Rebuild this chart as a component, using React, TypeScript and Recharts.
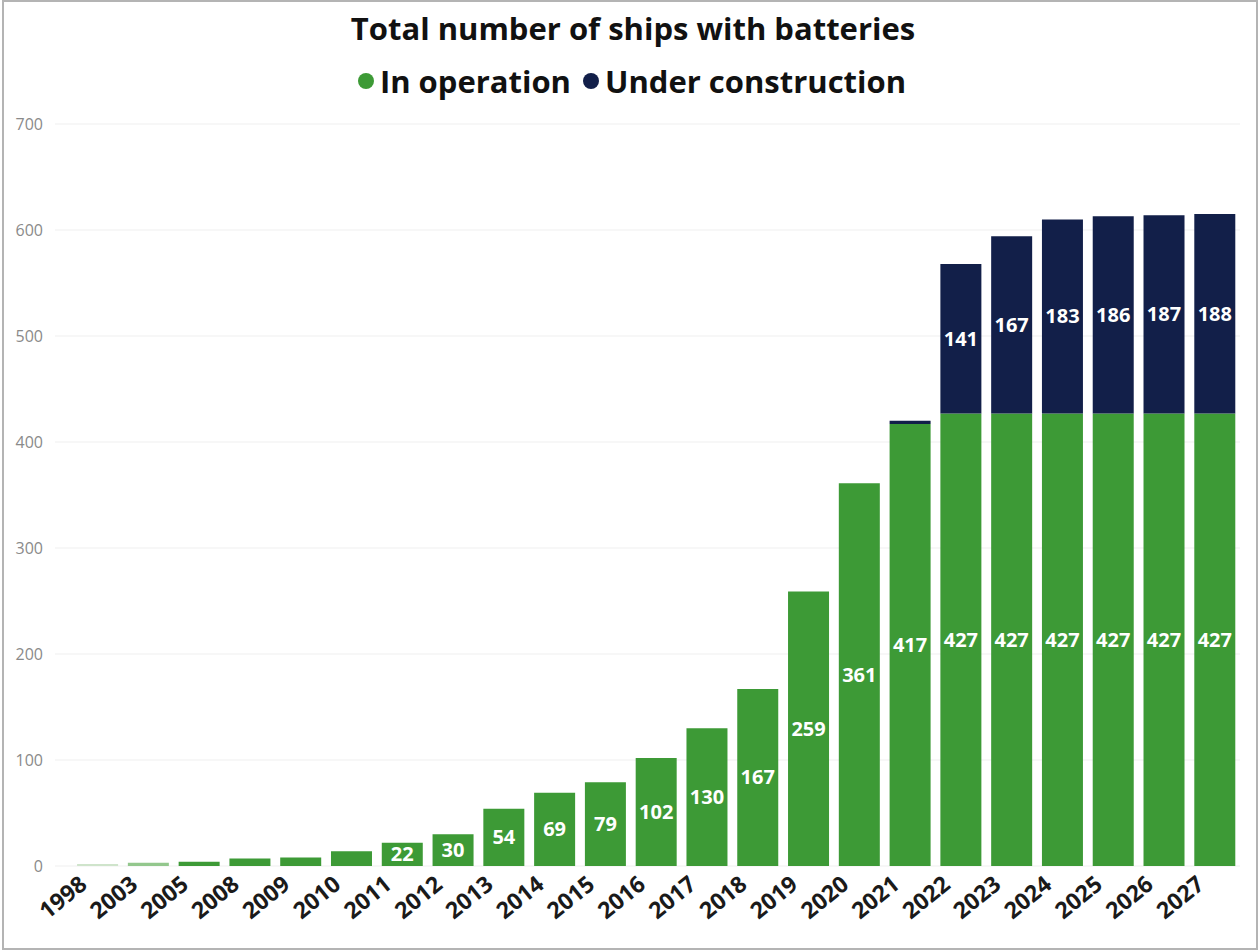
import { BarChart, Bar, XAxis, YAxis, CartesianGrid, LabelList, Cell } from 'recharts'

const YEARS = [
  '1998', '2003', '2005', '2008', '2009', '2010', '2011', '2012', '2013', '2014', '2015', '2016',
  '2017', '2018', '2019', '2020', '2021', '2022', '2023', '2024', '2025', '2026', '2027',
]
const IN_OPERATION = [2, 3, 4, 7, 8, 14, 22, 30, 54, 69, 79, 102, 130, 167, 259, 361, 417, 427, 427, 427, 427, 427, 427]
const UNDER_CONSTRUCTION = [0, 0, 0, 0, 0, 0, 0, 0, 0, 0, 0, 0, 0, 0, 0, 0, 3, 141, 167, 183, 186, 187, 188]
const Y_TICKS = [0, 100, 200, 300, 400, 500, 600, 700]

const GREEN = '#3d9a36'
const NAVY = '#121f49'
// the two oldest bars are drawn faded in the original
const GREEN_SHADES: Record<string, string> = { '1998': '#cfe4cb', '2003': '#93c78d' }
const FONT = '"Segoe UI", "Open Sans", sans-serif'

const data = YEARS.map((year, i) => ({
  year,
  operation: IN_OPERATION[i],
  construction: UNDER_CONSTRUCTION[i],
}))

// value labels only where the segment is tall enough
const SegmentLabel = (props: any) => {
  const { x, y, width, height, value } = props
  if (!value || height < 20) return null
  return (
    <text
      x={x + width / 2}
      y={y + height / 2}
      dy="0.35em"
      textAnchor="middle"
      fill="#fff"
      fontSize={20}
      fontWeight={700}
      fontFamily={FONT}
    >
      {value}
    </text>
  )
}

const YearTick = (props: any) => {
  const { x, y, payload } = props
  return (
    <text
      transform={`translate(${x - 9},${y + 19}) rotate(-39)`}
      textAnchor="end"
      fill="#1a1a1a"
      fontSize={23}
      fontWeight={700}
      fontFamily={FONT}
    >
      {payload.value}
    </text>
  )
}

export default function App() {
  return (
    <div style={{ position: 'absolute', left: 0, top: 0, width: 1260, height: 952, background: '#fff' }}>
      <div
        style={{
          position: 'absolute',
          left: 2,
          top: 0,
          width: 1252,
          height: 946,
          border: '2px solid #b4b4b4',
        }}
      />
      <div
        style={{
          position: 'absolute',
          top: 7,
          left: 0,
          width: 1266,
          textAlign: 'center',
          fontFamily: FONT,
          fontWeight: 700,
          fontSize: 31,
          color: '#111',
        }}
      >
        Total number of ships with batteries
      </div>
      <div
        style={{
          position: 'absolute',
          top: 60,
          left: 0,
          width: 1264,
          display: 'flex',
          justifyContent: 'center',
          alignItems: 'center',
          fontFamily: FONT,
          fontWeight: 700,
          fontSize: 31,
          color: '#111',
        }}
      >
        <span style={{ width: 16, height: 16, borderRadius: 8, background: GREEN, marginRight: 6 }} />
        <span style={{ marginRight: 12 }}>In operation</span>
        <span style={{ width: 16, height: 16, borderRadius: 8, background: NAVY, marginRight: 6 }} />
        <span>Under construction</span>
      </div>
      <BarChart
        width={1260}
        height={952}
        data={data}
        margin={{ top: 124, right: 20, left: 0, bottom: 16 }}
        barCategoryGap="10%"
      >
        <CartesianGrid vertical={false} stroke="#efefef" />
        <XAxis
          dataKey="year"
          interval={0}
          axisLine={false}
          tickLine={false}
          tickSize={0}
          height={70}
          padding={{ left: 17, right: 0 }}
          tick={<YearTick />}
        />
        <YAxis
          domain={[0, 700]}
          ticks={Y_TICKS}
          width={55}
          axisLine={false}
          tickLine={false}
          tickSize={0}
          tickMargin={12}
          tick={{ fill: '#8a8a8a', fontSize: 16, fontFamily: FONT }}
        />
        <Bar dataKey="operation" stackId="a" fill={GREEN} isAnimationActive={false}>
          {data.map((d) => (
            <Cell key={d.year} fill={GREEN_SHADES[d.year] ?? GREEN} />
          ))}
          <LabelList dataKey="operation" content={<SegmentLabel />} />
        </Bar>
        <Bar dataKey="construction" stackId="a" fill={NAVY} isAnimationActive={false}>
          <LabelList dataKey="construction" content={<SegmentLabel />} />
        </Bar>
      </BarChart>
    </div>
  )
}
